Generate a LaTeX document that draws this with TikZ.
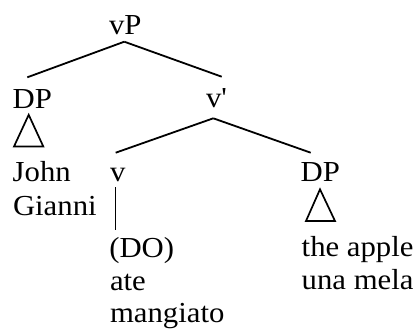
\documentclass[tikz,border=0pt]{standalone}
\usepackage{fontspec}
\setmainfont[FakeStretch=1.06]{Liberation Serif}
\usetikzlibrary{calc}
\tikzset{
  lbl/.style={inner sep=0pt, outer sep=0pt, anchor=base west, font=\fontsize{29}{33}\selectfont},
  branch/.style={line width=1.8pt},
  roof/.style={line width=1.7pt, line join=miter}
}
\begin{document}
\begin{tikzpicture}[x=1pt,y=-1pt]
  \useasboundingbox (0,0) rectangle (420,335);
  % category labels
  \node[lbl] (vP)  at (109,34)      {vP};
  \node[lbl] (DPa) at (12.7,108)    {DP};
  \node[lbl] (vb)  at (206,107)     {v\textquotesingle};
  \node[lbl] (v)   at (110,181.7)   {v};
  \node[lbl] (DPb) at (300.7,181.7) {DP};
  % terminal strings
  \node[lbl] (john)   at (12.7,181.7)  {John};
  \node[lbl] (gianni) at (13,215)      {Gianni};
  \node[lbl] (do)     at (109.3,257.3) {(DO)};
  \node[lbl] (ate)    at (110,290)     {ate};
  \node[lbl] (mang)   at (110,322.3)   {mangiato};
  \node[lbl] (apple)  at (301.7,256)   {the apple};
  \node[lbl] (mela)   at (301.7,289)   {una mela};
  % branches
  \coordinate (vPtop) at ($(vP.base west)+(15.3,7.7)$);
  \draw[branch] (vPtop) -- ($(DPa.base west)+(14.6,-30.7)$);
  \draw[branch] (vPtop) -- ($(vb.base west)+(15.7,-30.3)$);
  \coordinate (vbtop) at ($(vb.base west)+(7.3,11.3)$);
  \draw[branch] (vbtop) -- ($(v.base west)+(5.7,-29)$);
  \draw[branch] (vbtop) -- ($(DPb.base west)+(10,-29)$);
  \draw[branch] ($(v.base west)+(5.5,5.3)$) -- ($(do.base west)+(6.2,-27.3)$);
  % triangles over phrasal constituents
  \draw[roof] ($(DPa.base west)+(16,6.8)$) -- ++(-14.7,31.7) -- ++(29.3,0) -- cycle;
  \draw[roof] ($(DPb.base west)+(19.3,7.6)$) -- ++(-14,31.7) -- ++(29,0) -- cycle;
\end{tikzpicture}
\end{document}
